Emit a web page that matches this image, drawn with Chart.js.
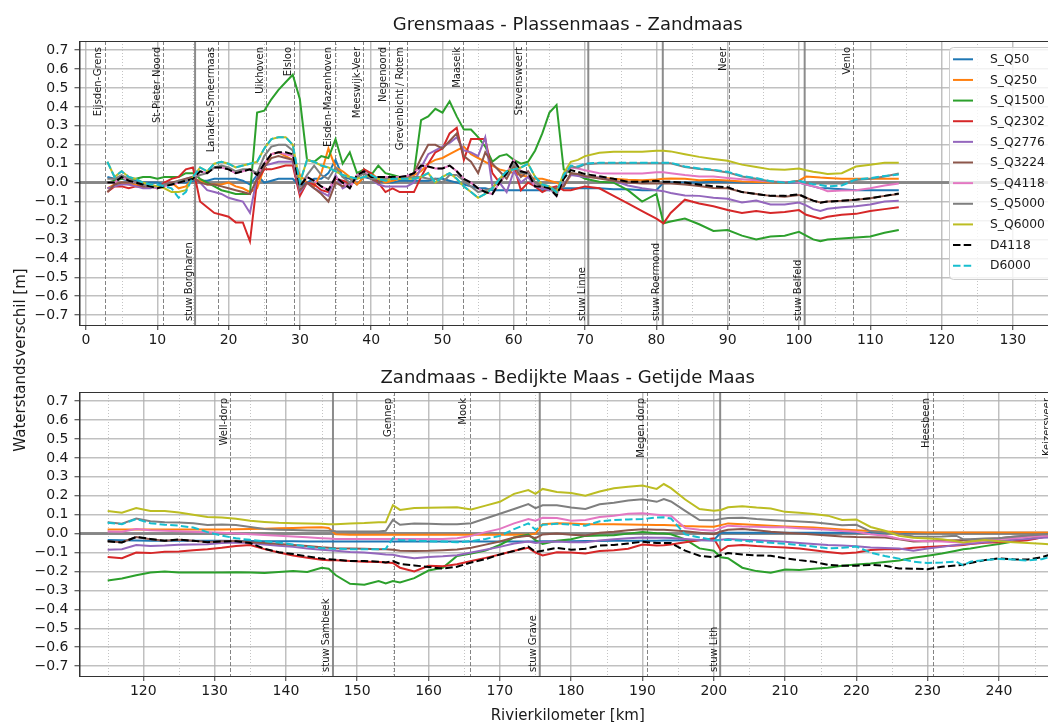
<!DOCTYPE html>
<html>
<head>
<meta charset="utf-8">
<script src="https://cdn.jsdelivr.net/npm/chart.js@4.4.0/dist/chart.umd.min.js"></script>
<style>
  html, body { margin: 0; padding: 0; background: #fff; }
  body { width: 1048px; height: 722px; overflow: hidden; position: relative; }
  .box { position: absolute; left: 0; width: 1060px; }
  #box1 { top: 0; height: 360px; }
  #box2 { top: 351px; height: 371px; }
  #ylab {
    position: absolute; left: -80px; top: 350.5px; width: 200px; height: 18px;
    line-height: 18px; text-align: center; white-space: nowrap;
    font: 15px 'DejaVu Sans'; color: #1a1a1a; transform: rotate(-90deg);
  }
</style>
</head>
<body>
<div class="box" id="box1"><canvas id="c1"></canvas></div>
<div class="box" id="box2"><canvas id="c2"></canvas></div>
<div id="ylab">Waterstandsverschil [m]</div>
<script>
// series names (legend order)
const seriesNames = ['S_Q50', 'S_Q250', 'S_Q1500', 'S_Q2302', 'S_Q2776', 'S_Q3224', 'S_Q4118', 'S_Q5000', 'S_Q6000', 'D4118', 'D6000'];

// tick labels
const yTicks = [-0.7, -0.6, -0.5, -0.4, -0.3, -0.2, -0.1, 0.0, 0.1, 0.2, 0.3, 0.4, 0.5, 0.6, 0.7];
const topXTicks = [0, 10, 20, 30, 40, 50, 60, 70, 80, 90, 100, 110, 120, 130];
const botXTicks = [120, 130, 140, 150, 160, 170, 180, 190, 200, 210, 220, 230, 240];

// locations (river km) upper panel
const topLocKm = [2.65, 10.85, 18.5, 25.25, 29.2, 34.9, 38.9, 42.5, 45.0, 52.9, 61.7, 90.2, 107.6];
const topLocNames = ['Eijsden-Grens', 'St-Pieter Noord', 'Lanaken-Smeermaas', 'Uikhoven', 'Elsloo', 'Eisden-Mazenhoven',
  'Meeswijk-Veer', 'Negenoord', 'Grevenbicht / Rotem', 'Maaseik', 'Stevensweert', 'Neer', 'Venlo'];
const topWeirKm = [15.3, 70.45, 80.9, 100.8];
const topWeirNames = ['stuw Borgharen', 'stuw Linne', 'stuw Roermond', 'stuw Belfeld'];

// locations lower panel
const botLocKm = [132.2, 155.2, 165.8, 190.7, 230.7, 247.6];
const botLocNames = ['Well-dorp', 'Gennep', 'Mook', 'Megen dorp', 'Heesbeen', 'Keizersveer'];
const botWeirKm = [146.6, 175.6, 200.9];
const botWeirNames = ['stuw Sambeek', 'stuw Grave', 'stuw Lith'];

// upper panel: river km
const topKm = [3, 4, 5, 6, 7, 8, 9, 10, 11, 12,
  13, 14, 15, 16, 17, 18, 19, 20, 21, 22,
  23, 24, 25, 26, 27, 28, 29, 30, 31, 32,
  33, 34, 35, 36, 37, 38, 39, 40, 41, 42,
  43, 44, 45, 46, 47, 48, 49, 50, 51, 52,
  53, 54, 55, 56, 57, 58, 59, 60, 61, 62,
  63, 64, 65, 66, 67,
  68, 69, 70, 72, 74, 76, 78, 80, 81, 82,
  84, 86, 88, 90, 92, 94, 96, 98, 100,
  101, 102, 103, 104,
  106, 108, 110, 112, 114];

const topQ50 = [0.03, 0.02, 0.02, 0.01, 0.01, 0.0, 0.0, 0.0, -0.01, -0.01,
  0.0, 0.0, 0.01, 0.01, 0.01, 0.02, 0.02, 0.02, 0.02, 0.01,
  -0.01, 0.04, 0.0, 0.01, 0.02, 0.02, 0.02, -0.02, 0.0, 0.02,
  0.02, 0.05, 0.12, 0.03, 0.02, -0.01, 0.03, 0.02, 0.01, 0.0,
  0.0, 0.01, 0.01, 0.01, 0.01, 0.01, 0.02, 0.02, 0.01, 0.0,
  -0.01, -0.02, -0.03, -0.03, -0.04, -0.04, -0.04, -0.04, -0.04, -0.04,
  -0.04, -0.04, -0.04, -0.04, -0.03,
  -0.03, -0.03, -0.03, -0.03, -0.035, -0.035, -0.04, -0.04, 0.0, 0.0,
  0.0, 0.0, 0.005, 0.005, 0.0, 0.0, 0.0, 0.0, 0.0,
  -0.01, -0.02, -0.03, -0.03,
  -0.035, -0.04, -0.04, -0.04, -0.04];

const topQ250 = [-0.03, -0.01, 0.0, -0.01, -0.01, -0.02, -0.02, -0.02, -0.01, 0.0,
  -0.03, -0.02, 0.02, 0.01, -0.01, -0.01, -0.01, 0.0, -0.02, -0.03,
  -0.05, -0.03, 0.08, 0.15, 0.16, 0.14, 0.12, 0.04, 0.0, -0.02,
  0.05, 0.18, 0.08, 0.06, 0.03, -0.01, 0.03, 0.05, 0.02, 0.0,
  0.01, 0.02, 0.03, 0.04, 0.06, 0.10, 0.12, 0.13, 0.15, 0.17,
  0.19, 0.15, 0.13, 0.11, 0.09, 0.07, 0.06, 0.05, 0.04, 0.03,
  0.02, 0.02, 0.01, 0.0, -0.02,
  0.04, 0.04, 0.03, 0.027, 0.02, 0.015, 0.013, 0.017, 0.02, 0.022,
  0.02, 0.013, 0.015, 0.011, 0.006, 0.003, 0.0, 0.0, 0.01,
  0.032, 0.03, 0.027, 0.025,
  0.02, 0.02, 0.02, 0.02, 0.02];

const topQ1500 = [0.0, 0.01, 0.02, 0.02, 0.02, 0.03, 0.03, 0.02, 0.03, 0.03,
  0.03, 0.05, 0.05, 0.02, 0.0, -0.02, -0.04, -0.05, -0.06, -0.06,
  -0.06, 0.37, 0.38, 0.44, 0.49, 0.53, 0.57, 0.44, 0.12, 0.11,
  0.14, 0.13, 0.23, 0.10, 0.16, 0.05, 0.07, 0.04, 0.09, 0.05,
  0.04, 0.03, 0.03, 0.05, 0.33, 0.35, 0.39, 0.37, 0.43, 0.35,
  0.28, 0.28, 0.24, 0.19, 0.11, 0.14, 0.15, 0.12, 0.10, 0.11,
  0.17, 0.26, 0.37, 0.41, 0.07,
  0.05, 0.04, 0.02, 0.005, 0.0, -0.04, -0.10, -0.06, -0.215, -0.205,
  -0.19, -0.22, -0.255, -0.25, -0.28, -0.30, -0.285, -0.28, -0.26,
  -0.28, -0.30, -0.31, -0.30,
  -0.295, -0.29, -0.285, -0.265, -0.25];

const topQ2302 = [-0.05, -0.02, -0.02, -0.03, -0.02, -0.02, -0.01, -0.03, 0.0, 0.02,
  0.03, 0.07, 0.08, -0.10, -0.13, -0.16, -0.17, -0.18, -0.21, -0.21,
  -0.31, 0.01, 0.07, 0.07, 0.08, 0.09, 0.09, -0.07, 0.0, -0.01,
  -0.04, -0.05, 0.02, 0.01, 0.0, 0.02, 0.07, 0.05, 0.0, -0.05,
  -0.03, -0.05, -0.05, -0.05, 0.03, 0.10, 0.16, 0.18, 0.26, 0.29,
  0.12, 0.23, 0.23, 0.23, 0.05, 0.0, 0.05, 0.09, -0.04, 0.0,
  -0.02, -0.05, -0.03, -0.02, -0.04,
  -0.04, -0.03, -0.02, -0.03, -0.07, -0.11, -0.15, -0.19, -0.215, -0.16,
  -0.09, -0.11, -0.125, -0.145, -0.16, -0.15, -0.16, -0.155, -0.145,
  -0.17, -0.18, -0.19, -0.18,
  -0.17, -0.165, -0.15, -0.14, -0.13];

const topQ2776 = [-0.03, -0.02, -0.01, -0.01, -0.02, -0.03, -0.03, -0.02, -0.01, 0.0,
  0.0, 0.02, 0.03, 0.0, -0.04, -0.05, -0.06, -0.08, -0.09, -0.10,
  -0.16, 0.03, 0.09, 0.10, 0.11, 0.11, 0.11, -0.05, 0.0, -0.03,
  -0.05, -0.07, 0.04, -0.03, -0.01, 0.03, 0.05, 0.02, -0.01, -0.02,
  -0.02, -0.02, -0.02, 0.0, 0.08, 0.15, 0.17, 0.19, 0.21, 0.24,
  0.17, 0.16, 0.14, 0.24, -0.02, 0.0, -0.05, 0.06, 0.0, 0.03,
  -0.02, -0.03, -0.04, -0.03, -0.01,
  0.04, 0.035, 0.03, 0.027, 0.01, -0.015, -0.03, -0.04, -0.045, -0.055,
  -0.068, -0.07, -0.08, -0.085, -0.105, -0.095, -0.115, -0.115, -0.105,
  -0.12, -0.14, -0.15, -0.138,
  -0.13, -0.125, -0.115, -0.10, -0.096];

const topQ3224 = [-0.05, -0.01, 0.0, 0.0, 0.0, -0.02, -0.02, -0.03, -0.01, 0.0,
  0.01, 0.02, 0.03, 0.0, -0.01, -0.01, -0.02, -0.03, -0.04, -0.05,
  -0.06, 0.02, 0.08, 0.13, 0.14, 0.13, 0.12, -0.04, 0.0, -0.03,
  -0.06, -0.10, 0.0, -0.02, 0.0, 0.03, 0.05, 0.02, 0.0, 0.02,
  0.02, 0.02, 0.03, 0.05, 0.13, 0.20, 0.20, 0.18, 0.22, 0.26,
  0.14, 0.11, 0.05, 0.16, 0.10, 0.06, 0.02, 0.09, 0.03, 0.06,
  0.0, -0.02, -0.03, -0.03, -0.02,
  0.05, 0.045, 0.035, 0.022, 0.01, 0.0, -0.005, -0.005, -0.005, -0.005,
  -0.01, -0.018, -0.028, -0.03, -0.05, -0.06, -0.07, -0.075, -0.065,
  -0.08, -0.095, -0.105, -0.1,
  -0.096, -0.09, -0.082, -0.07, -0.06];

const topQ4118 = [0.0, 0.0, 0.03, 0.01, 0.0, -0.01, -0.02, -0.03, -0.02, -0.01,
  0.0, 0.01, 0.02, 0.06, 0.05, 0.08, 0.08, 0.07, 0.05, 0.06,
  0.07, 0.04, 0.10, 0.15, 0.16, 0.15, 0.14, -0.02, 0.03, 0.01,
  -0.02, -0.04, 0.03, 0.0, -0.03, 0.04, 0.06, 0.03, 0.03, 0.03,
  0.03, 0.03, 0.035, 0.05, 0.09, 0.085, 0.075, 0.075, 0.09, 0.06,
  0.02, 0.0, -0.03, -0.05, -0.06, 0.0, 0.05, 0.12, 0.06, 0.05,
  -0.02, -0.02, -0.03, -0.07, 0.04,
  0.08, 0.075, 0.065, 0.05, 0.048, 0.048, 0.048, 0.055, 0.055, 0.05,
  0.04, 0.032, 0.032, 0.025, 0.018, 0.012, 0.006, 0.003, 0.0,
  -0.01, -0.02, -0.03, -0.045,
  -0.042, -0.04, -0.03, -0.015, -0.005];

const topQ5000 = [0.02, 0.02, 0.04, 0.02, 0.0, -0.01, -0.02, -0.02, -0.01, -0.01,
  0.01, 0.01, 0.02, 0.04, 0.05, 0.08, 0.09, 0.08, 0.06, 0.07,
  0.07, 0.05, 0.14, 0.19, 0.20, 0.20, 0.17, -0.02, 0.04, 0.09,
  0.04, 0.02, 0.08, 0.03, 0.0, 0.03, 0.05, 0.02, 0.02, 0.02,
  0.02, 0.02, 0.02, 0.03, 0.03, 0.02, 0.02, 0.0, 0.04, 0.04,
  0.01, -0.02, -0.05, -0.04, -0.03, 0.02, 0.04, 0.10, 0.05, 0.05,
  0.0, -0.02, -0.03, -0.06, 0.03,
  0.085, 0.08, 0.097, 0.102, 0.102, 0.102, 0.102, 0.102, 0.102, 0.102,
  0.082, 0.072, 0.065, 0.054, 0.032, 0.021, 0.006, 0.0, 0.008,
  -0.002, -0.004, -0.004, -0.004,
  -0.004, 0.014, 0.021, 0.032, 0.048];

const topQ6000 = [0.11, 0.03, 0.06, 0.03, 0.02, 0.0, -0.01, -0.02, -0.03, -0.05,
  -0.05, -0.04, 0.03, 0.08, 0.06, 0.10, 0.11, 0.10, 0.08, 0.09,
  0.10, 0.11, 0.18, 0.23, 0.24, 0.24, 0.20, 0.0, 0.12, 0.11,
  0.09, 0.08, 0.06, 0.04, 0.03, 0.02, 0.03, 0.04, 0.02, 0.01,
  0.02, 0.02, 0.02, 0.02, 0.03, 0.05, 0.0, 0.03, 0.05, 0.02,
  -0.02, -0.05, -0.08, -0.06, -0.03, 0.02, 0.06, 0.07, 0.08, 0.10,
  0.03, -0.01, -0.02, -0.05, 0.05,
  0.11, 0.12, 0.14, 0.158, 0.163, 0.163, 0.163, 0.168, 0.168, 0.165,
  0.15, 0.136, 0.125, 0.115, 0.095, 0.082, 0.07, 0.068, 0.075,
  0.065, 0.058, 0.052, 0.046,
  0.05, 0.085, 0.095, 0.105, 0.105];

const topD4118 = [0.0, 0.0, 0.03, 0.01, 0.0, -0.01, -0.02, -0.03, -0.02, -0.01,
  0.0, 0.01, 0.02, 0.06, 0.05, 0.08, 0.08, 0.07, 0.05, 0.06,
  0.07, 0.04, 0.10, 0.15, 0.16, 0.16, 0.15, -0.02, 0.03, 0.01,
  -0.02, -0.04, 0.03, 0.0, -0.03, 0.04, 0.06, 0.03, 0.03, 0.03,
  0.03, 0.03, 0.035, 0.05, 0.09, 0.085, 0.075, 0.075, 0.09, 0.06,
  0.02, 0.0, -0.03, -0.05, -0.06, 0.0, 0.05, 0.12, 0.06, 0.05,
  -0.02, -0.02, -0.03, -0.07, 0.02,
  0.066, 0.057, 0.045, 0.034, 0.02, 0.005, 0.004, 0.01, 0.004, 0.004,
  0.0, -0.01, -0.02, -0.025, -0.05, -0.06, -0.07, -0.07, -0.062,
  -0.08, -0.095, -0.106, -0.1,
  -0.096, -0.09, -0.083, -0.07, -0.057];

const topD6000 = [0.11, 0.03, 0.06, 0.03, 0.02, 0.0, -0.01, -0.01, -0.02, -0.03,
  -0.08, -0.05, 0.03, 0.08, 0.06, 0.10, 0.11, 0.10, 0.08, 0.09,
  0.10, 0.11, 0.18, 0.23, 0.24, 0.24, 0.20, 0.0, 0.12, 0.11,
  0.09, 0.08, 0.06, 0.04, 0.03, 0.02, 0.03, 0.04, 0.02, 0.01,
  0.02, 0.02, 0.02, 0.02, 0.03, 0.05, 0.0, 0.03, 0.05, 0.02,
  -0.02, -0.05, -0.08, -0.06, -0.03, 0.02, 0.06, 0.07, 0.08, 0.10,
  0.03, -0.01, -0.02, -0.05, 0.04,
  0.09, 0.085, 0.10, 0.105, 0.105, 0.105, 0.105, 0.105, 0.105, 0.105,
  0.085, 0.075, 0.068, 0.057, 0.035, 0.024, 0.008, 0.0, 0.01,
  0.0, -0.008, -0.013, -0.02,
  -0.015, 0.017, 0.024, 0.035, 0.043];

// lower panel: river km
const botKm = [115, 117, 119, 121, 123, 125, 127, 129, 131, 133,
  135, 137, 139, 141, 143, 145, 146, 147, 149, 151,
  153, 154, 155, 156, 158, 160, 162, 164, 166, 168,
  170, 172, 174, 175, 176, 178, 180, 182, 184, 186,
  188, 190, 192, 193, 194, 196, 198, 200, 201, 202,
  204, 206, 208, 210, 212, 214, 216, 218, 220, 222,
  224, 226, 228, 230, 232, 234, 235, 236, 238, 240,
  242, 244, 246, 247];

const botQ50 = [-0.034, -0.035, -0.036, -0.037, -0.037, -0.038, -0.038, -0.038, -0.038, -0.039,
  -0.039, -0.04, -0.04, -0.04, -0.041, -0.041, -0.041, -0.042, -0.042, -0.042,
  -0.042, -0.042, -0.042, -0.042, -0.042, -0.042, -0.042, -0.042, -0.042, -0.042,
  -0.042, -0.042, -0.041, -0.041, -0.04, -0.04, -0.04, -0.039, -0.039, -0.038,
  -0.038, -0.037, -0.037, -0.036, -0.036, -0.035, -0.035, -0.034, 0.004, 0.004,
  0.004, 0.004, 0.004, 0.004, 0.004, 0.004, 0.004, 0.004, 0.004, 0.004,
  0.004, 0.004, 0.004, 0.004, 0.004, 0.004, 0.004, 0.004, 0.004, 0.004,
  0.004, 0.004, 0.004, 0.004];

const botQ250 = [0.022, 0.022, 0.022, 0.022, 0.022, 0.022, 0.022, 0.022, 0.022, 0.023,
  0.025, 0.026, 0.028, 0.03, 0.032, 0.034, 0.03, -0.003, -0.006, -0.006,
  -0.006, -0.006, -0.006, -0.006, -0.006, -0.006, -0.006, -0.006, -0.006, -0.006,
  -0.006, -0.006, -0.006, 0.0, 0.05, 0.055, 0.053, 0.05, 0.05, 0.049,
  0.048, 0.047, 0.046, 0.045, 0.044, 0.04, 0.038, 0.036, 0.045, 0.054,
  0.05, 0.046, 0.042, 0.038, 0.035, 0.032, 0.027, 0.022, 0.018, 0.014,
  0.011, 0.009, 0.007, 0.006, 0.006, 0.006, 0.006, 0.006, 0.006, 0.006,
  0.006, 0.006, 0.006, 0.006];

const botQ1500 = [-0.247, -0.237, -0.22, -0.205, -0.2, -0.205, -0.206, -0.206, -0.205, -0.204,
  -0.205, -0.208, -0.203, -0.198, -0.203, -0.18, -0.185, -0.22, -0.265, -0.27,
  -0.25, -0.263, -0.25, -0.258, -0.235, -0.195, -0.18, -0.118, -0.105, -0.09,
  -0.06, -0.02, -0.005, -0.035, -0.055, -0.038, -0.03, -0.012, -0.01, -0.008,
  0.0, 0.009, 0.002, 0.0, -0.003, -0.03, -0.078, -0.09, -0.125, -0.13,
  -0.18, -0.198, -0.206, -0.19, -0.192, -0.186, -0.18, -0.17, -0.163, -0.158,
  -0.15, -0.142, -0.128, -0.117, -0.105, -0.09, -0.083, -0.078, -0.066, -0.055,
  -0.042, -0.03, -0.012, -0.003];

const botQ2302 = [-0.123, -0.13, -0.1, -0.103, -0.096, -0.095, -0.088, -0.083, -0.075, -0.065,
  -0.06, -0.082, -0.1, -0.115, -0.127, -0.138, -0.14, -0.14, -0.145, -0.148,
  -0.15, -0.152, -0.155, -0.18, -0.2, -0.17, -0.172, -0.162, -0.145, -0.128,
  -0.11, -0.09, -0.075, -0.1, -0.115, -0.098, -0.1, -0.105, -0.092, -0.088,
  -0.08, -0.058, -0.063, -0.062, -0.057, -0.045, -0.035, -0.025, -0.09, -0.065,
  -0.06, -0.066, -0.07, -0.073, -0.078, -0.088, -0.097, -0.105, -0.1, -0.087,
  -0.083, -0.082, -0.075, -0.07, -0.067, -0.063, -0.06, -0.055, -0.048, -0.045,
  -0.042, -0.035, -0.02, -0.012];

const botQ2776 = [-0.085, -0.082, -0.06, -0.065, -0.063, -0.059, -0.058, -0.056, -0.05, -0.047,
  -0.05, -0.057, -0.064, -0.07, -0.078, -0.085, -0.088, -0.09, -0.097, -0.1,
  -0.106, -0.11, -0.112, -0.12, -0.13, -0.124, -0.12, -0.114, -0.1, -0.085,
  -0.07, -0.052, -0.042, -0.05, -0.044, -0.042, -0.045, -0.045, -0.036, -0.03,
  -0.025, -0.02, -0.022, -0.022, -0.023, -0.028, -0.034, -0.038, -0.032, -0.029,
  -0.032, -0.035, -0.039, -0.043, -0.049, -0.055, -0.06, -0.063, -0.067, -0.073,
  -0.076, -0.079, -0.09, -0.078, -0.07, -0.06, -0.056, -0.053, -0.046, -0.039,
  -0.033, -0.028, -0.022, -0.02];

const botQ3224 = [-0.04, -0.045, -0.018, -0.03, -0.038, -0.032, -0.038, -0.044, -0.04, -0.038,
  -0.045, -0.05, -0.055, -0.06, -0.066, -0.072, -0.074, -0.077, -0.078, -0.08,
  -0.082, -0.083, -0.085, -0.09, -0.092, -0.091, -0.088, -0.084, -0.075, -0.058,
  -0.042, -0.02, -0.011, -0.024, -0.004, 0.0, -0.006, -0.01, 0.005, 0.01,
  0.018, 0.023, 0.02, 0.02, 0.018, 0.012, 0.005, -0.003, 0.011, 0.02,
  0.024, 0.018, 0.01, 0.005, 0.0, -0.005, -0.01, -0.015, -0.018, -0.019,
  -0.02, -0.03, -0.042, -0.04, -0.038, -0.035, -0.034, -0.032, -0.028, -0.024,
  -0.017, -0.012, -0.008, -0.006];

const botQ4118 = [0.011, 0.01, 0.024, 0.018, 0.015, 0.012, 0.01, 0.007, 0.004, 0.0,
  -0.003, -0.007, -0.011, -0.015, -0.019, -0.024, -0.026, -0.028, -0.029, -0.029,
  -0.029, -0.029, -0.029, -0.029, -0.029, -0.029, -0.029, -0.024, -0.012, 0.008,
  0.025, 0.054, 0.077, 0.068, 0.084, 0.082, 0.068, 0.072, 0.088, 0.095,
  0.105, 0.107, 0.1, 0.097, 0.095, 0.03, 0.02, 0.015, 0.03, 0.042,
  0.038, 0.036, 0.034, 0.033, 0.028, 0.024, 0.02, 0.014, 0.01, -0.003,
  -0.011, -0.027, -0.037, -0.04, -0.042, -0.045, -0.047, -0.044, -0.036, -0.029,
  -0.024, -0.018, -0.013, -0.011];

const botQ5000 = [0.06, 0.052, 0.08, 0.065, 0.06, 0.059, 0.055, 0.046, 0.048, 0.045,
  0.035, 0.024, 0.021, 0.019, 0.017, 0.015, 0.015, 0.012, 0.011, 0.011,
  0.011, 0.015, 0.072, 0.047, 0.054, 0.052, 0.05, 0.05, 0.055, 0.08,
  0.105, 0.13, 0.156, 0.135, 0.15, 0.15, 0.138, 0.13, 0.155, 0.163,
  0.175, 0.182, 0.168, 0.183, 0.17, 0.12, 0.072, 0.07, 0.077, 0.082,
  0.084, 0.077, 0.072, 0.068, 0.064, 0.06, 0.052, 0.044, 0.047, 0.012,
  0.006, -0.002, -0.015, -0.017, -0.015, -0.011, -0.03, -0.03, -0.026, -0.024,
  -0.016, -0.01, -0.005, -0.003];

const botQ6000 = [0.12, 0.11, 0.135, 0.12, 0.12, 0.112, 0.1, 0.088, 0.085, 0.078,
  0.068, 0.062, 0.057, 0.055, 0.054, 0.052, 0.05, 0.05, 0.054, 0.056,
  0.06, 0.06, 0.15, 0.125, 0.135, 0.137, 0.138, 0.139, 0.128, 0.148,
  0.168, 0.21, 0.23, 0.21, 0.236, 0.22, 0.215, 0.2, 0.222, 0.24,
  0.248, 0.254, 0.236, 0.262, 0.24, 0.18, 0.13, 0.121, 0.125, 0.139,
  0.145, 0.138, 0.133, 0.115, 0.11, 0.104, 0.095, 0.072, 0.075, 0.035,
  0.015, -0.012, -0.022, -0.026, -0.03, -0.04, -0.047, -0.042, -0.034, -0.04,
  -0.045, -0.05, -0.054, -0.056];

const botD4118 = [-0.04, -0.047, -0.018, -0.028, -0.038, -0.031, -0.038, -0.045, -0.042, -0.04,
  -0.05, -0.08, -0.098, -0.108, -0.12, -0.132, -0.136, -0.138, -0.145, -0.145,
  -0.148, -0.153, -0.145, -0.16, -0.168, -0.176, -0.185, -0.175, -0.152, -0.135,
  -0.11, -0.092, -0.068, -0.097, -0.09, -0.075, -0.085, -0.08, -0.063, -0.06,
  -0.052, -0.043, -0.05, -0.05, -0.05, -0.09, -0.117, -0.125, -0.113, -0.103,
  -0.11, -0.115, -0.117, -0.13, -0.14, -0.148, -0.165, -0.17, -0.17, -0.165,
  -0.17, -0.184, -0.185, -0.188, -0.175, -0.168, -0.165, -0.155, -0.14, -0.131,
  -0.136, -0.137, -0.125, -0.113];

const botD6000 = [0.058, 0.05, 0.077, 0.055, 0.047, 0.042, 0.032, 0.008, -0.01, -0.025,
  -0.033, -0.04, -0.047, -0.058, -0.068, -0.077, -0.078, -0.08, -0.082, -0.082,
  -0.082, -0.08, -0.025, -0.034, -0.036, -0.04, -0.042, -0.046, -0.04, -0.028,
  -0.012, 0.024, 0.054, 0.02, 0.047, 0.052, 0.048, 0.042, 0.065, 0.072,
  0.075, 0.077, 0.085, 0.086, 0.08, -0.004, -0.02, -0.035, -0.035, -0.032,
  -0.038, -0.043, -0.048, -0.053, -0.06, -0.068, -0.078, -0.075, -0.068, -0.1,
  -0.118, -0.132, -0.148, -0.155, -0.153, -0.148, -0.168, -0.148, -0.14, -0.134,
  -0.137, -0.142, -0.135, -0.125];

// styling
const seriesColors = ['#1f77b4', '#ff7f0e', '#2ca02c', '#d62728', '#9467bd', '#8c564b',
  '#e377c2', '#7f7f7f', '#bcbd22', '#000000', '#17becf'];
const seriesDashed = [false, false, false, false, false, false, false, false, false, true, true];
const textColor = '#1a1a1a';
const fontFam = "'DejaVu Sans'";

Chart.defaults.font.family = fontFam;
Chart.defaults.color = textColor;

function makeSets(km, lists) {
    return lists.map((vals, i) => ({
        label: seriesNames[i],
        data: km.map((k, j) => ({ x: k, y: vals[j] })),
        borderColor: seriesColors[i],
        borderWidth: 2,
        borderDash: seriesDashed[i] ? [7.5, 3.2] : [],
        pointRadius: 0,
        tension: 0,
        fill: false,
        order: lists.length - i   // later series on top, like matplotlib
    }));
}

function vline(ctx, px, top, bottom) {
    ctx.beginPath();
    ctx.moveTo(px, top);
    ctx.lineTo(px, bottom);
    ctx.stroke();
}

// annotations, title, legend for one panel
function panelPlugin(p) {
    return {
        id: 'panel' + p.id,
        beforeDatasetsDraw(chart) {
            const { ctx, chartArea: a, scales: { x, y } } = chart;
            ctx.save();
            ctx.beginPath();
            ctx.rect(a.left, a.top, a.right - a.left, a.bottom - a.top);
            ctx.clip();

            // minor x grid (dotted)
            ctx.strokeStyle = '#c4c4c4';
            ctx.lineWidth = 1;
            ctx.setLineDash([1, 2]);
            for (let k = p.minorStart; k <= x.max; k += 10) {
                vline(ctx, Math.round(x.getPixelForValue(k)) + 0.5, a.top, a.bottom);
            }

            // locations (dashed)
            ctx.strokeStyle = 'rgba(110,110,110,0.85)';
            ctx.setLineDash([4, 2]);
            p.locKm.forEach(k => vline(ctx, Math.round(x.getPixelForValue(k)) + 0.5, a.top, a.bottom));

            // weirs (solid)
            ctx.setLineDash([]);
            ctx.strokeStyle = 'rgba(128,128,128,0.9)';
            ctx.lineWidth = 2;
            p.weirKm.forEach(k => vline(ctx, x.getPixelForValue(k), a.top, a.bottom));

            // zero line
            ctx.lineWidth = 3;
            ctx.strokeStyle = 'rgba(128,128,128,0.9)';
            const y0 = y.getPixelForValue(0);
            ctx.beginPath();
            ctx.moveTo(a.left, y0);
            ctx.lineTo(a.right, y0);
            ctx.stroke();
            ctx.restore();
        },
        afterDatasetsDraw(chart) {
            const { ctx, chartArea: a, scales: { x } } = chart;
            ctx.save();
            ctx.fillStyle = textColor;
            ctx.font = '10px ' + fontFam;
            ctx.textBaseline = 'alphabetic';
            p.locKm.forEach((k, i) => {
                const px = x.getPixelForValue(k);
                ctx.save();
                ctx.translate(px - 3.5, a.top + 6);
                ctx.rotate(-Math.PI / 2);
                ctx.textAlign = 'right';
                ctx.fillText(p.locNames[i], 0, 0);
                ctx.restore();
            });
            p.weirKm.forEach((k, i) => {
                const px = x.getPixelForValue(k);
                ctx.save();
                ctx.translate(px - 3.5, a.bottom - 4);
                ctx.rotate(-Math.PI / 2);
                ctx.textAlign = 'left';
                ctx.fillText(p.weirNames[i], 0, 0);
                ctx.restore();
            });

            // frame
            ctx.strokeStyle = '#333';
            ctx.lineWidth = 1;
            ctx.strokeRect(a.left + 0.5, a.top + 0.5, a.right - a.left, a.bottom - a.top);
            ctx.restore();
        },
        afterDraw(chart) {
            const { ctx, chartArea: a } = chart;
            ctx.save();
            ctx.fillStyle = textColor;
            ctx.textAlign = 'center';
            ctx.textBaseline = 'alphabetic';
            ctx.font = '18px ' + fontFam;
            ctx.fillText(p.title, (a.left + a.right) / 2, p.titleY);

            if (p.xlabel) {
                ctx.font = '15px ' + fontFam;
                ctx.fillText(p.xlabel, (a.left + a.right) / 2, p.xlabelY);
            }

            if (p.legend) {
                const lx = 949.5, ly = 47.5, lw = 130, lh = 232, r = 4;
                ctx.beginPath();
                ctx.moveTo(lx + r, ly);
                ctx.lineTo(lx + lw - r, ly);
                ctx.arcTo(lx + lw, ly, lx + lw, ly + r, r);
                ctx.lineTo(lx + lw, ly + lh - r);
                ctx.arcTo(lx + lw, ly + lh, lx + lw - r, ly + lh, r);
                ctx.lineTo(lx + r, ly + lh);
                ctx.arcTo(lx, ly + lh, lx, ly + lh - r, r);
                ctx.lineTo(lx, ly + r);
                ctx.arcTo(lx, ly, lx + r, ly, r);
                ctx.closePath();
                ctx.fillStyle = 'rgba(255,255,255,0.8)';
                ctx.fill();
                ctx.strokeStyle = '#cccccc';
                ctx.lineWidth = 1;
                ctx.stroke();

                ctx.font = '12.3px ' + fontFam;
                ctx.textAlign = 'left';
                ctx.textBaseline = 'middle';
                seriesNames.forEach((name, i) => {
                    const ry = 59.3 + i * 20.64;
                    ctx.strokeStyle = seriesColors[i];
                    ctx.lineWidth = 2;
                    ctx.setLineDash(seriesDashed[i] ? [7.5, 3.2] : []);
                    ctx.beginPath();
                    ctx.moveTo(953, ry);
                    ctx.lineTo(973, ry);
                    ctx.stroke();
                    ctx.fillStyle = textColor;
                    ctx.fillText(name, 990, ry + 0.5);
                });
                ctx.setLineDash([]);
            }
            ctx.restore();
        }
    };
}

function makeOptions(xmin, xmax, xTicks, xHeight) {
    const gridCfg = { color: 'rgba(176,176,176,0.8)', lineWidth: 1.5, tickColor: '#333', tickLength: 5, tickWidth: 1 };
    return {
        responsive: true,
        maintainAspectRatio: false,
        animation: false,
        layout: { padding: { left: 0, right: 4, top: 41, bottom: 0 } },
        plugins: { legend: { display: false }, tooltip: { enabled: false } },
        scales: {
            x: {
                type: 'linear',
                min: xmin,
                max: xmax,
                afterBuildTicks: s => { s.ticks = xTicks.map(v => ({ value: v })); },
                afterFit: s => { s.height = xHeight; },
                ticks: { autoSkip: false, maxRotation: 0, padding: 2, font: { size: 14 }, color: textColor,
                    callback: v => String(v) },
                grid: gridCfg,
                border: { color: '#333', width: 1 }
            },
            y: {
                type: 'linear',
                min: -0.752,
                max: 0.748,
                afterBuildTicks: s => { s.ticks = yTicks.map(v => ({ value: v })); },
                afterFit: s => { s.width = 79.5; },
                ticks: { padding: 6, font: { size: 14 }, color: textColor,
                    callback: v => v.toFixed(1).replace('-', '\u2212') },
                grid: gridCfg,
                border: { color: '#333', width: 1 }
            }
        }
    };
}

const topLists = [topQ50, topQ250, topQ1500, topQ2302, topQ2776, topQ3224, topQ4118, topQ5000, topQ6000, topD4118, topD6000];
const botLists = [botQ50, botQ250, botQ1500, botQ2302, botQ2776, botQ3224, botQ4118, botQ5000, botQ6000, botD4118, botD6000];

new Chart(document.getElementById('c1'), {
    type: 'line',
    data: { datasets: makeSets(topKm, topLists) },
    options: makeOptions(-0.91, 136.05, topXTicks, 35),
    plugins: [panelPlugin({
        id: 1, title: 'Grensmaas - Plassenmaas - Zandmaas', titleY: 30,
        locKm: topLocKm, locNames: topLocNames, weirKm: topWeirKm, weirNames: topWeirNames,
        minorStart: 5, legend: true
    })]
});

new Chart(document.getElementById('c2'), {
    type: 'line',
    data: { datasets: makeSets(botKm, botLists) },
    options: makeOptions(111.05, 248.0, botXTicks, 46),
    plugins: [panelPlugin({
        id: 2, title: 'Zandmaas - Bedijkte Maas - Getijde Maas', titleY: 32,
        locKm: botLocKm, locNames: botLocNames, weirKm: botWeirKm, weirNames: botWeirNames,
        minorStart: 115, legend: false, xlabel: 'Rivierkilometer [km]', xlabelY: 369
    })]
});
</script>
</body>
</html>
